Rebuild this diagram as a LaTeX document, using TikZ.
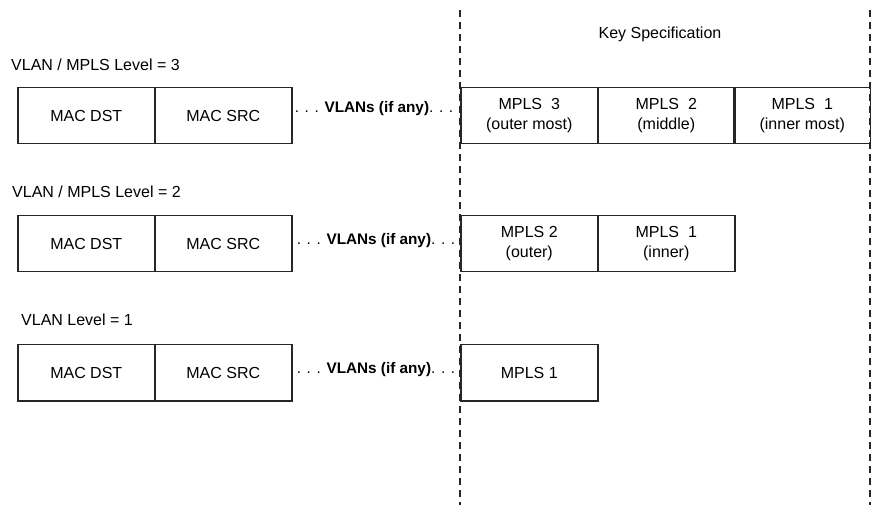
\documentclass[tikz,border=0pt]{standalone}
\usepackage{fontspec}
\setmainfont{Liberation Sans}
\begin{document}
\begin{tikzpicture}[x=1pt,y=-1pt,
  field/.style={draw=black!85, line width=1.5pt, minimum width=137pt, minimum height=56pt,
    anchor=north west, inner sep=0pt, align=center, font=\fontsize{16}{20}\selectfont},
  lbl/.style={anchor=base west, inner sep=0pt, font=\fontsize{16}{19}\selectfont},
  dots/.style={anchor=center, inner sep=0pt, font=\fontsize{15.3}{18}\selectfont},
  keyline/.style={draw=black!85, line width=1.5pt, dash pattern=on 7pt off 5pt}]
\useasboundingbox (0,0) rectangle (871,505);
% key region dashed lines
\coordinate (kl1) at (460,10);
\coordinate (kl2) at (460,505);
\coordinate (kr1) at (870,10);
\coordinate (kr2) at (870,505);
\draw[keyline] (kl1) -- (kl2);
\draw[keyline] (kr1) -- (kr2);
\node[anchor=base, inner sep=0pt, font=\fontsize{16}{19}\selectfont] (key) at (660,39) {Key Specification};
% row 1
\node[lbl] (l3) at (11,71) {VLAN / MPLS Level = 3};
\node[field] (d3) at (17,87) {MAC DST};
\node[field] (s3) at (154,87) {MAC SRC};
\node[dots] (v3) at (374,109) {. . . \textbf{VLANs (if any)}. . .};
\node[field] (m33) at (460,87) {MPLS\ \ 3\\(outer most)};
\node[field] (m32) at (597,87) {MPLS\ \ 2\\(middle)};
\node[field] (m31) at (733,87) {MPLS\ \ 1\\(inner most)};
% row 2
\node[lbl] (l2) at (12,198) {VLAN / MPLS Level = 2};
\node[field] (d2) at (17,215) {MAC DST};
\node[field] (s2) at (154,215) {MAC SRC};
\node[dots] (v2) at (376,241) {. . . \textbf{VLANs (if any)}. . .};
\node[field] (m22) at (460,215) {MPLS 2\\(outer)};
\node[field] (m21) at (597,215) {MPLS\ \ 1\\(inner)};
% row 3
\node[lbl] (l1) at (21,326) {VLAN Level = 1};
\node[field] (d1) at (17,344) {MAC DST};
\node[field] (s1) at (154,344) {MAC SRC};
\node[dots] (v1) at (376,370) {. . . \textbf{VLANs (if any)}. . .};
\node[field] (m11) at (460,344) {MPLS 1};
\end{tikzpicture}
\end{document}
